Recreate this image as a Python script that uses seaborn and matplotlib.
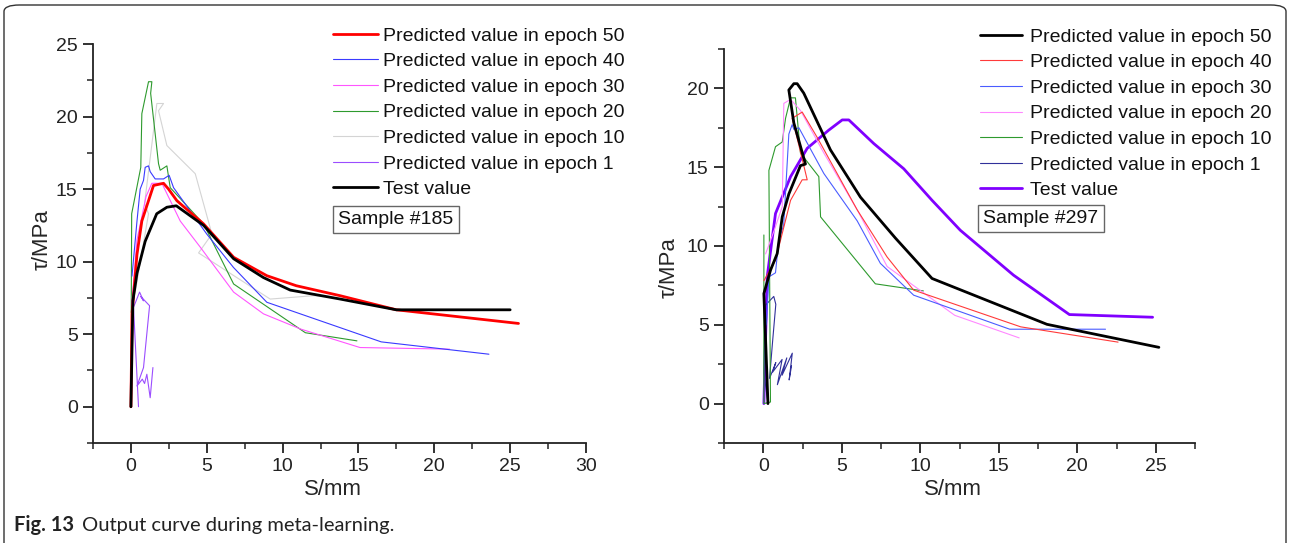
import matplotlib
matplotlib.use("Agg")
import matplotlib.pyplot as plt
import seaborn as sns
from matplotlib.patches import FancyBboxPatch
from matplotlib.ticker import MultipleLocator

# ---------------- Sample #185 (left) ----------------
L_test_x = [0.0, 0.13, 0.4, 0.94, 1.7, 2.37, 2.99, 4.79, 6.77, 8.74, 10.5, 13.8, 17.5, 25.0]
L_test_y = [0.0, 7.3, 9.2, 11.4, 13.3, 13.75, 13.85, 12.5, 10.2, 8.9, 8.04, 7.42, 6.68, 6.68]

L_e50_x = [0.0, 0.07, 0.4, 0.72, 1.16, 1.49, 2.15, 2.48, 3.03, 4.79, 6.77, 8.96, 10.9, 13.8, 17.5, 25.55]
L_e50_y = [0.0, 6.4, 10.5, 12.8, 14.2, 15.25, 15.4, 15.0, 14.2, 12.6, 10.3, 9.03, 8.34, 7.65, 6.68, 5.74]

L_e40_x = [0.07, 0.4, 0.61, 0.83, 0.94, 1.16, 1.27, 1.6, 2.15, 2.52, 2.81, 5.0, 6.76, 8.96, 16.5, 23.6]
L_e40_y = [9.0, 12.8, 15.0, 15.6, 16.5, 16.6, 16.2, 15.7, 15.7, 15.95, 15.1, 11.9, 9.6, 7.2, 4.47, 3.62]

L_e30_x = [0.05, 0.4, 1.0, 1.38, 2.04, 3.25, 4.57, 6.77, 8.74, 11.2, 15.1, 21.0]
L_e30_y = [7.0, 11.5, 14.5, 15.4, 15.4, 12.8, 11.0, 7.9, 6.4, 5.35, 4.08, 3.97]

L_e20_x = [0.02, 0.05, 0.65, 0.72, 1.16, 1.38, 1.3, 1.82, 1.93, 2.37, 2.59, 4.79, 6.77, 11.5, 14.9]
L_e20_y = [6.5, 13.3, 16.5, 20.2, 22.4, 22.4, 21.6, 16.75, 16.3, 16.6, 15.1, 12.6, 8.46, 5.1, 4.54]

L_e10_x = [0.3, 1.16, 0.9, 1.71, 2.15, 1.82, 2.37, 4.24, 5.34, 4.46, 9.18, 12.0, 13.0]
L_e10_y = [8.0, 13.3, 14.0, 20.9, 20.9, 20.4, 18.0, 16.06, 11.9, 10.6, 7.42, 7.65, 7.6]

L_e1_x = [0.5, 0.17, 0.57, 0.83, 0.65, 1.23, 0.83, 0.4, 0.75, 0.9, 1.05, 1.27, 1.45]
L_e1_y = [0.0, 6.85, 7.9, 7.3, 7.6, 6.96, 2.7, 1.43, 1.9, 1.6, 2.24, 0.62, 2.7]

# ---------------- Sample #297 (right) ----------------
R_e50_x = [0.3, 0.04, 0.46, 0.89, 1.21, 1.63, 2.37, 2.69, 1.95, 1.63, 1.95, 2.16, 2.58, 4.28, 6.19, 8.42, 10.75, 18.07, 25.2]
R_e50_y = [0.0, 6.98, 8.46, 9.52, 11.85, 13.3, 15.1, 15.2, 17.8, 19.9, 20.3, 20.3, 19.7, 16.1, 13.1, 10.5, 7.94, 5.03, 3.57]

R_e40_x = [0.04, 0.78, 1.74, 2.48, 2.8, 1.95, 1.84, 2.48, 3.43, 5.98, 7.89, 9.58, 16.4, 22.6]
R_e40_y = [7.8, 9.1, 12.9, 14.2, 14.2, 17.7, 18.1, 18.5, 16.9, 12.3, 9.3, 7.2, 4.87, 3.9]

R_e30_x = [0.2, 0.36, 0.78, 0.99, 1.3, 1.63, 1.84, 1.95, 2.27, 3.86, 5.98, 7.46, 9.58, 15.7, 21.8]
R_e30_y = [5.0, 8.04, 8.3, 10.4, 11.3, 17.1, 17.7, 17.4, 17.5, 14.6, 11.6, 8.9, 6.88, 4.72, 4.72]

R_e20_x = [0.15, 0.7, 1.21, 1.31, 1.74, 2.37, 3.86, 5.98, 7.89, 12.2, 16.3]
R_e20_y = [9.5, 11.0, 12.5, 19.05, 19.3, 18.6, 15.9, 12.3, 8.7, 5.6, 4.17]

R_e10_x = [0.04, 0.04, 0.46, 0.36, 0.78, 1.21, 1.42, 1.74, 2.05, 2.37, 3.54, 3.65, 7.14, 10.2]
R_e10_y = [10.7, 0.0, 0.1, 14.8, 16.3, 16.6, 18.1, 19.4, 19.4, 15.9, 14.4, 11.85, 7.6, 7.15]

R_e1_x = [0.3, 0.05, 0.1, 0.67, 0.8, 0.6, 0.4, 0.8, 0.6, 1.2, 0.9, 1.5, 1.2, 1.85, 1.65, 1.8]
R_e1_y = [0.0, 1.9, 6.2, 6.8, 6.3, 4.0, 1.6, 2.6, 2.0, 2.8, 1.2, 2.9, 1.8, 3.2, 1.5, 2.4]

R_test_x = [0.04, 0.25, 0.78, 1.74, 2.8, 4.17, 5.03, 5.45, 7.04, 8.95, 10.75, 12.55, 15.94, 19.5, 24.8]
R_test_y = [0.0, 8.04, 12.06, 14.4, 16.2, 17.35, 18.0, 18.0, 16.5, 14.9, 12.9, 11.0, 8.15, 5.65, 5.48]

LEGEND_LABELS = ["Predicted value in epoch 50", "Predicted value in epoch 40",
                 "Predicted value in epoch 30", "Predicted value in epoch 20",
                 "Predicted value in epoch 10", "Predicted value in epoch 1", "Test value"]

sns.set_style("ticks")
plt.rcParams['font.family'] = ['Liberation Sans', 'DejaVu Sans']

fig = plt.figure(figsize=(12.9, 5.43), dpi=100)
W, H = 1290.0, 543.0
axL = fig.add_axes([93 / W, 1 - 443 / H, (586 - 93) / W, (443 - 44) / H])
axR = fig.add_axes([724 / W, 1 - 443 / H, (1195 - 724) / W, (443 - 49) / H])


def draw(ax, x, y, color, lw, label):
    sns.lineplot(x=x, y=y, ax=ax, color=color, linewidth=lw, label=label,
                 sort=False, estimator=None)


thin = 0.8
thick = 2.0
# Left
draw(axL, L_e10_x, L_e10_y, "#d4d4d4", thin, LEGEND_LABELS[4])
draw(axL, L_e1_x, L_e1_y, "#9b4dff", thin, LEGEND_LABELS[5])
draw(axL, L_e20_x, L_e20_y, "#2e9a2e", thin, LEGEND_LABELS[3])
draw(axL, L_e30_x, L_e30_y, "#ff55ff", thin, LEGEND_LABELS[2])
draw(axL, L_e40_x, L_e40_y, "#3a3aff", thin, LEGEND_LABELS[1])
draw(axL, L_e50_x, L_e50_y, "#ff0000", thick, LEGEND_LABELS[0])
draw(axL, L_test_x, L_test_y, "#000000", thick, LEGEND_LABELS[6])
# Right
draw(axR, R_test_x, R_test_y, "#8000ff", thick, LEGEND_LABELS[6])
draw(axR, R_e1_x, R_e1_y, "#30309a", thin, LEGEND_LABELS[5])
draw(axR, R_e10_x, R_e10_y, "#2e9a2e", thin, LEGEND_LABELS[4])
draw(axR, R_e20_x, R_e20_y, "#ff88ff", thin, LEGEND_LABELS[3])
draw(axR, R_e30_x, R_e30_y, "#4a5cff", thin, LEGEND_LABELS[2])
draw(axR, R_e40_x, R_e40_y, "#ff3a3a", thin, LEGEND_LABELS[1])
draw(axR, R_e50_x, R_e50_y, "#000000", thick, LEGEND_LABELS[0])

for ax, xlim, ylim, xmaj, ymaj in [(axL, (-2.5, 30), (-2.5, 25), [0, 5, 10, 15, 20, 25, 30], [0, 5, 10, 15, 20, 25]),
                                   (axR, (-2.5, 27.5), (-2.5, 22.5), [0, 5, 10, 15, 20, 25], [0, 5, 10, 15, 20])]:
    ax.set_xlim(*xlim)
    ax.set_ylim(*ylim)
    ax.set_xticks(xmaj)
    ax.set_yticks(ymaj)
    ax.xaxis.set_minor_locator(MultipleLocator(2.5))
    ax.yaxis.set_minor_locator(MultipleLocator(2.5))
    for s in ["top", "right"]:
        ax.spines[s].set_visible(False)
    for s in ["left", "bottom"]:
        ax.spines[s].set_linewidth(1.3)
        ax.spines[s].set_color("#222222")
    ax.tick_params(which="major", direction="out", length=7, width=1.3, labelsize=14, colors="#222222", pad=4)
    ax.tick_params(which="minor", direction="out", length=4, width=1.1, colors="#222222")
    ax.set_xlabel("S/mm", fontsize=16)
    ax.set_ylabel("τ/MPa", fontsize=16)
    ax.set_facecolor("white")

axL.xaxis.set_label_coords((333 - 93) / 493, -(479 - 443) / 399)
axR.xaxis.set_label_coords((953 - 724) / 471, -(479 - 443) / 394)
axL.yaxis.set_label_coords((53 - 93) / 493, (443 - 240) / 399)
axR.yaxis.set_label_coords((680 - 724) / 471, (443 - 268) / 394)


def make_legend(ax, order, anchor, hl, htp):
    handles, labels = ax.get_legend_handles_labels()
    d = dict(zip(labels, handles))
    hs = [d[l] for l in order]
    leg = ax.legend(hs, order, loc="upper left", bbox_to_anchor=anchor,
                    bbox_transform=fig.transFigure, frameon=False, fontsize=14,
                    handlelength=hl, handletextpad=htp, labelspacing=0.41,
                    borderpad=0, borderaxespad=0)
    for t in leg.get_texts():
        t.set_color("#111111")
    return leg


make_legend(axL, LEGEND_LABELS, (333 / W, 1 - 27 / H), 2.3, 0.26)
make_legend(axR, LEGEND_LABELS, (980 / W, 1 - 28 / H), 2.15, 0.4)

box = dict(boxstyle="square,pad=0.28", fc="white", ec="#666666", lw=1)
fig.text(338 / W, 1 - 219.5 / H, "Sample #185", fontsize=14, va="center", ha="left", bbox=box, color="#111111")
fig.text(983 / W, 1 - 218.5 / H, "Sample #297", fontsize=14, va="center", ha="left", bbox=box, color="#111111")

# caption
fig.text(14 / W, 1 - 525 / H, "Fig. 13", fontsize=14.5, fontweight="bold", family=["Lato", "DejaVu Sans"],
         va="center", ha="left", color="#222222")
fig.text(82 / W, 1 - 525 / H, "Output curve during meta-learning.", fontsize=14.5, family=["Lato", "DejaVu Sans"],
         va="center", ha="left", color="#222222")

frame = FancyBboxPatch((4 / W, -20 / H), (1282) / W, (538 + 20) / H,
                       boxstyle="round,pad=0,rounding_size=0.012", transform=fig.transFigure,
                       fc="none", ec="#333333", lw=1.0)
fig.patches.append(frame)

fig.savefig("out.png", dpi=100)
